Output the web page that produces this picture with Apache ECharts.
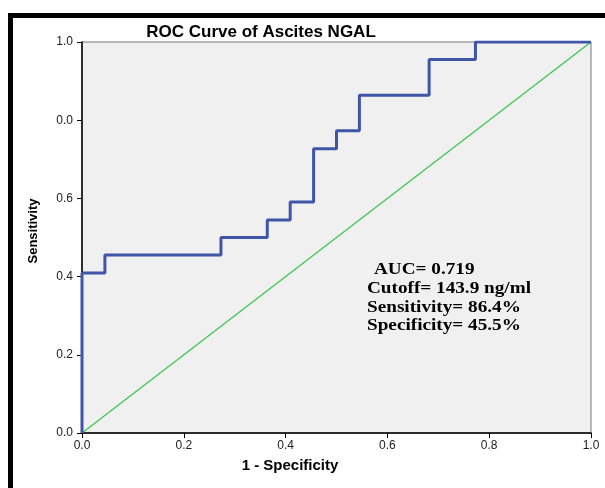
<!DOCTYPE html>
<html><head><meta charset="utf-8">
<script src="https://cdn.jsdelivr.net/npm/echarts@6/dist/echarts.min.js"></script>
<style>html,body{margin:0;padding:0;background:#fff}#c{width:605px;height:488px}</style>
</head><body><div id="c"></div>
<script>
// ROC curve coordinates (1 - specificity, sensitivity)
var fpr = [0, 0, 0.045, 0.045, 0.273, 0.273, 0.364, 0.364, 0.409, 0.409, 0.455, 0.455, 0.5, 0.5, 0.545, 0.545, 0.682, 0.682, 0.773, 0.773, 1];
var tpr = [0, 0.409, 0.409, 0.455, 0.455, 0.5, 0.5, 0.545, 0.545, 0.591, 0.591, 0.727, 0.727, 0.773, 0.773, 0.864, 0.864, 0.955, 0.955, 1, 1];
var refX = [0, 1];
var refY = [0, 1];
var xTickLabels = ['0.0', '0.2', '0.4', '0.6', '0.8', '1.0'];
var yTickLabels = ['0.0', '0.2', '0.4', '0.6', '0.0', '1.0'];
var annotations = ['AUC= 0.719', 'Cutoff= 143.9 ng/ml', 'Sensitivity= 86.4%', 'Specificity= 45.5%'];

var rocData = fpr.map(function (v, i) { return [v, tpr[i]]; });
var refData = refX.map(function (v, i) { return [v, refY[i]]; });

var chart = echarts.init(document.getElementById('c'));
var annX = [374, 367, 367, 367];
var annY = [270, 289, 308, 326];
var graphics = [
  { type: 'rect', shape: { x: 8, y: 13, width: 597, height: 5 }, style: { fill: '#000' }, z: 100 },
  { type: 'rect', shape: { x: 8, y: 13, width: 5, height: 475 }, style: { fill: '#000' }, z: 100 },
  { type: 'text', x: 261, y: 32, style: { text: 'ROC Curve of Ascites NGAL', font: 'bold 17px Arial, "Liberation Sans", sans-serif', fill: '#000', textAlign: 'center', textVerticalAlign: 'middle' }, z: 100 },
  { type: 'text', x: 290, y: 466, style: { text: '1 - Specificity', font: 'bold 15px Arial, "Liberation Sans", sans-serif', fill: '#000', textAlign: 'center', textVerticalAlign: 'middle' }, z: 100 },
  { type: 'text', x: 33, y: 231, rotation: Math.PI / 2, style: { text: 'Sensitivity', font: 'bold 13px Arial, "Liberation Sans", sans-serif', fill: '#000', textAlign: 'center', textVerticalAlign: 'middle' }, z: 100 }
];
annotations.forEach(function (t, i) {
  graphics.push({ type: 'text', x: annX[i], y: annY[i], scaleX: 1.2, style: { text: t, font: 'bold 16px "Liberation Serif", "Times New Roman", serif', fill: '#000', textAlign: 'left', textVerticalAlign: 'middle' }, z: 100 });
});

chart.setOption({
  animation: false,
  grid: { left: 82, right: 14, top: 42, bottom: 55, show: true, backgroundColor: '#f0f0f0', borderColor: '#777', borderWidth: 1 },
  xAxis: {
    type: 'value', min: 0, max: 1, interval: 0.2,
    axisLine: { show: true, lineStyle: { color: '#000', width: 1.5 } },
    axisTick: { show: true, length: 5, lineStyle: { color: '#000' } },
    axisLabel: { margin: 7, color: '#222', fontSize: 12, fontFamily: 'Arial, "Liberation Sans", sans-serif',
      formatter: function (v) { return xTickLabels[Math.round(v * 5)]; } },
    splitLine: { show: false }
  },
  yAxis: {
    type: 'value', min: 0, max: 1, interval: 0.2,
    axisLine: { show: true, lineStyle: { color: '#000', width: 1.5 } },
    axisTick: { show: true, length: 5, lineStyle: { color: '#000' } },
    axisLabel: { margin: 9, color: '#222', fontSize: 12, fontFamily: 'Arial, "Liberation Sans", sans-serif',
      formatter: function (v) { return yTickLabels[Math.round(v * 5)]; } },
    splitLine: { show: false }
  },
  graphic: graphics,
  series: [
    { type: 'line', data: refData, symbol: 'none', lineStyle: { color: '#40c450', width: 1.3 }, z: 2 },
    { type: 'line', data: rocData, symbol: 'none', lineStyle: { color: '#3f55a8', width: 3 }, z: 3 }
  ]
});
</script></body></html>
